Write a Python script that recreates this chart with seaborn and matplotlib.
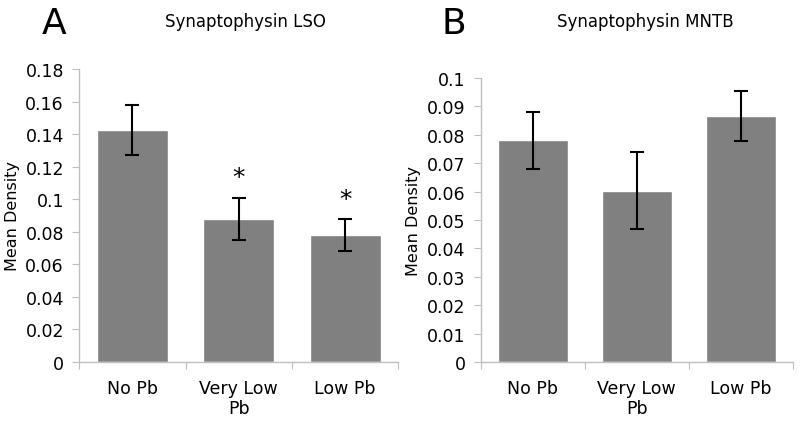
import matplotlib
matplotlib.use("Agg")
import matplotlib.pyplot as plt
import seaborn as sns
import pandas as pd

groups = ["No Pb", "Very Low\nPb", "Low Pb"]

lso_means = [0.1425, 0.088, 0.078]
lso_err = [0.0153, 0.013, 0.010]
lso_stars = ["", "*", "*"]

mntb_means = [0.078, 0.0603, 0.0865]
mntb_err = [0.0099, 0.0135, 0.0088]

sns.set_style("white")
plt.rcParams["font.family"] = ["DejaVu Sans"]
plt.rcParams["text.color"] = "black"
plt.rcParams["xtick.labelcolor"] = "black"
plt.rcParams["ytick.labelcolor"] = "black"
plt.rcParams["axes.labelcolor"] = "black"

fig = plt.figure(figsize=(8, 4.27), dpi=100)
ax1 = fig.add_axes([0.099, 0.150, 0.399, 0.686])
ax2 = fig.add_axes([0.601, 0.150, 0.390, 0.665])

axis_col = "#bfbfbf"


def fmt(v):
    s = f"{v:.2f}".rstrip("0").rstrip(".")
    return s if s else "0"


def panel(ax, means, errs, ymax, step, title, letter, letter_x, title_x):
    df = pd.DataFrame({"group": groups, "mean": means})
    sns.barplot(data=df, x="group", y="mean", color="#808080", width=0.67,
                saturation=1, ax=ax)
    ax.errorbar(range(len(means)), means, yerr=errs, fmt="none", ecolor="black",
                elinewidth=1.5, capsize=5, capthick=1.5)
    ax.set_xlim(-0.5, len(means) - 0.5)
    ax.set_ylim(0, ymax)
    n = int(round(ymax / step))
    ticks = [i * step for i in range(n + 1)]
    ax.set_yticks(ticks)
    ax.set_yticklabels([fmt(t) for t in ticks], fontsize=12.5)
    ax.set_xticks([-0.5, 0.5, 1.5, 2.5])
    ax.set_xticklabels([])
    ax.set_xticks(range(len(groups)), minor=True)
    ax.set_xticklabels(groups, minor=True, fontsize=12.5)
    ax.tick_params(axis="x", which="minor", length=0, pad=12)
    ax.tick_params(axis="x", which="major", length=5, color=axis_col, direction="out")
    ax.tick_params(axis="y", length=5, color=axis_col, direction="out", pad=6)
    ax.tick_params(bottom=True, left=True)
    for s in ["top", "right"]:
        ax.spines[s].set_visible(False)
    for s in ["left", "bottom"]:
        ax.spines[s].set_color(axis_col)
        ax.spines[s].set_linewidth(1)
    ax.set_xlabel("")
    ax.set_ylabel("Mean Density", fontsize=11.5, labelpad=4)
    fig.text(letter_x, 0.943, letter, fontsize=26, ha="left", va="center")
    fig.text(title_x, 0.948, title, fontsize=12, ha="center", va="center")


panel(ax1, lso_means, lso_err, 0.18, 0.02, "Synaptophysin LSO", "A", 0.052, 0.307)
panel(ax2, mntb_means, mntb_err, 0.1, 0.01, "Synaptophysin MNTB", "B", 0.552, 0.807)

for i, (m, e, s) in enumerate(zip(lso_means, lso_err, lso_stars)):
    if s:
        ax1.text(i, m + e + 0.005, s, ha="center", va="bottom", fontsize=18)

fig.savefig("out.png", dpi=100)
